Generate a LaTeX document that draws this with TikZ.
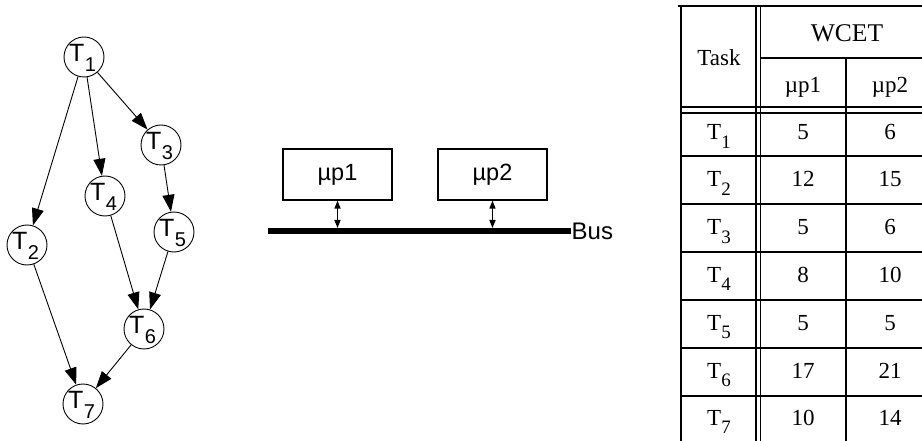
\documentclass[tikz,border=0pt]{standalone}
\usepackage{fontspec}
\setmainfont{Liberation Serif}
\newfontfamily\arialf{Liberation Sans}
\usetikzlibrary{arrows.meta,calc}
\newcommand{\gsub}[1]{T\kern0.3pt\raisebox{-10pt}{\fontsize{20}{20}\selectfont #1}}
\newcommand{\tsub}[1]{T\raisebox{-8.5pt}{\fontsize{19}{19}\selectfont #1}}
\tikzset{
  task/.style={circle,draw,line width=0.9pt,minimum size=40pt,inner sep=0pt},
  tlabel/.style={anchor=base west,inner sep=0pt,font=\arialf\fontsize{25}{25}\selectfont},
  edge/.style={line width=0.9pt,-{Triangle[length=17pt,width=12pt]}},
  proc/.style={draw,line width=1.2pt,minimum width=109pt,minimum height=51pt,inner sep=0pt,font=\arialf\fontsize{23.5}{23.5}\selectfont},
  bus/.style={line width=6pt},
  link/.style={line width=1.4pt,{Triangle[length=8pt,width=6pt]}-{Triangle[length=8pt,width=6pt]}},
  tline/.style={line width=1.2pt},
  cell/.style={anchor=base,inner sep=0pt,font=\fontsize{23}{23}\selectfont}
}
\begin{document}
\begin{tikzpicture}[x=1pt,y=-1pt]
\useasboundingbox (0,0) rectangle (922,441);
% task graph
\foreach \n/\xx/\yy in {1/84/57,2/27/245,3/161/145,4/105/196,5/174/232,6/144/329,7/83/404}{
  \node[task] (t\n) at (\xx,\yy) {};
  \node[tlabel] (t\n l) at ($(t\n)+(-15,4.5)$) {\gsub{\n}};
}
\draw[edge] (t1) -- (t2);
\draw[edge] (t1) -- (t4);
\draw[edge] (t1) -- (t3);
\draw[edge] (t3) -- (t5);
\draw[edge] (t4) -- (t6);
\draw[edge] (t5) -- (t6);
\draw[edge] (t2) -- (t7);
\draw[edge] (t6) -- (t7);
% architecture
\node[proc] (p1) at (337.5,174.5) {µp1};
\node[proc] (p2) at (492.5,174.5) {µp2};
\coordinate (busl) at (268,231);
\coordinate (busr) at (571,231);
\draw[bus] (busl) -- (busr);
\node[anchor=base west,inner sep=0pt,font=\arialf\fontsize{24}{24}\selectfont] (buslabel) at (571.5,239.3) {Bus};
\coordinate (b1) at (p1.south |- 0,228);
\coordinate (b2) at (p2.south |- 0,228);
\draw[link] (p1.south) -- (b1);
\draw[link] (p2.south) -- (b2);
% table
\draw[tline] (678,6) -- (922,6);
\draw[tline] (761,58) -- (922,58);
\draw[tline] (681,107) -- (922,107);
\draw[tline] (681,113) -- (922,113);
\foreach \yy in {156,204,252,300,348,396} \draw[tline] (681,\yy) -- (922,\yy);
\draw[tline] (681,6) -- (681,441);
\draw[tline] (756,6) -- (756,441);
\draw[tline] (760.5,6) -- (760.5,441);
\draw[tline] (846,58) -- (846,441);
\node[cell] (htask) at (719,65.5) {Task};
\node[cell,font=\fontsize{25.5}{25.5}\selectfont] (hwcet) at (847,41.5) {WCET};
\node[cell] (hp1) at (803,93) {µp1};
\node[cell] (hp2) at (890,93) {µp2};
\foreach \i/\yy/\a/\b in {1/140/5/6,2/187/12/15,3/235/5/6,4/282/8/10,5/330/5/5,6/378/17/21,7/425/10/14}{
  \node[cell] (r\i t) at (719,\yy) {\tsub{\i}};
  \node[cell] (r\i a) at (803,\yy) {\a};
  \node[cell] (r\i b) at (890,\yy) {\b};
}
\end{tikzpicture}
\end{document}
